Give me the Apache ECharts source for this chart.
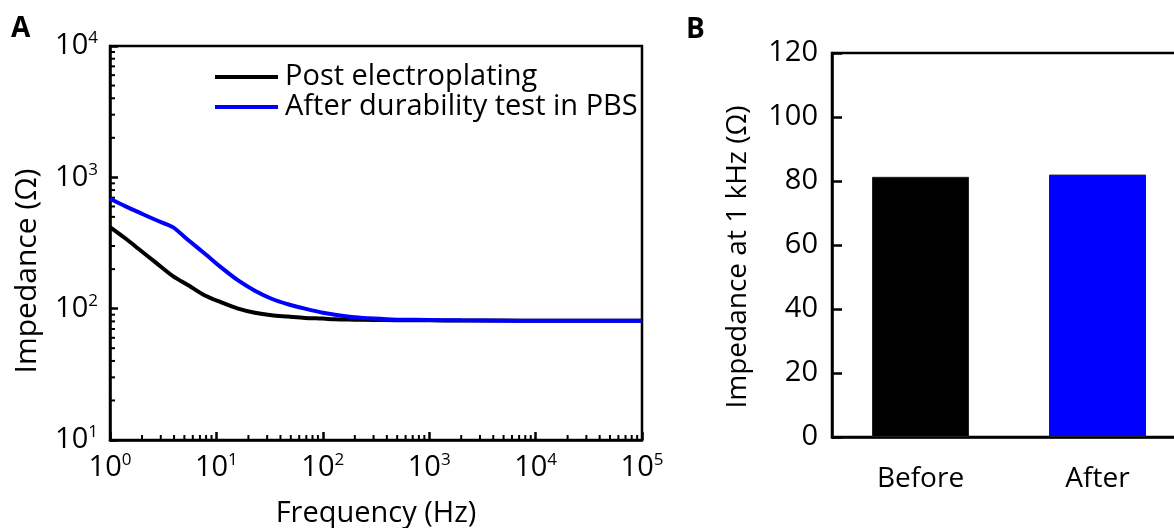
<!DOCTYPE html>
<html><head><meta charset="utf-8">
<script src="https://cdn.jsdelivr.net/npm/echarts@6/dist/echarts.min.js"></script>
<style>html,body{margin:0;padding:0;background:#fff}#c{width:1174px;height:528px}</style>
</head><body><div id="c"></div>
<script>
// ---- data ----
const frequency = [1, 1.4, 1.85, 2.7, 3.9, 5.5, 7.8, 11, 16, 23, 33, 47, 68, 100, 130, 200, 300, 500, 1000, 2000, 5000, 10000, 20000, 50000, 100000];
const postElectroplating = [418, 342, 286, 224, 177, 150, 126, 112, 100, 93, 89, 87, 85, 84, 83, 82.5, 82, 81.8, 81.5, 81.3, 81.2, 81, 81, 81, 81];
const afterDurability = [687, 601, 543, 473, 418, 330, 262, 207, 164, 137, 119, 108, 100, 93, 90, 86, 84, 82.5, 82, 81.5, 81, 81, 81, 81, 81];
const seriesNames = ['Post electroplating', 'After durability test in PBS'];
const barCategories = ['Before', 'After'];
const barValues = [81.3, 82.0];
const barColors = ['#000000', '#0000ff'];

// minor tick positions for log axes (2..9 per decade)
function minorTicks(lo, hi) {
  const out = [];
  for (let d = lo; d < hi; d *= 10) for (let k = 2; k <= 9; k++) out.push(d * k);
  return out;
}
const xMinor = minorTicks(1, 100000).map(v => [v, 10]);
const yMinor = minorTicks(10, 10000).map(v => [1, v]);

const FONT = '"Open Sans", "Noto Sans", sans-serif';
const supRich = {
  b: { fontSize: 29, fontFamily: FONT, color: '#000', lineHeight: 32, verticalAlign: 'middle' },
  s: { fontSize: 17, fontFamily: FONT, color: '#000', lineHeight: 14, verticalAlign: 'top' }
};
const expFmt = v => '{b|10}{s|' + Math.round(Math.log10(v)) + '}';

const chart = echarts.init(document.getElementById('c'), null, { renderer: 'canvas' });
chart.setOption({
  animation: false,
  backgroundColor: '#fff',
  textStyle: { fontFamily: FONT },
  graphic: [
    { type: 'text', left: 11, top: 15, style: { text: 'A', font: 'bold 28px ' + FONT, fill: '#000' } },
    { type: 'text', left: 686, top: 16, style: { text: 'B', font: 'bold 28px ' + FONT, fill: '#000' } }
  ],
  legend: {
    data: seriesNames,
    orient: 'vertical',
    left: 215, top: 62, padding: 0,
    itemWidth: 63, itemHeight: 4, itemGap: 0,
    icon: 'rect',
    textStyle: { fontSize: 29, fontFamily: FONT, color: '#000', lineHeight: 30, padding: [0, 0, 0, 2] }
  },
  grid: [
    { left: 110, top: 46, width: 532, bottom: 88, show: true, borderColor: '#000', borderWidth: 2.5, containLabel: false, outerBoundsMode: 'none' },
    { left: 832, top: 53, width: 354, bottom: 91, show: true, borderColor: '#000', borderWidth: 2.5, containLabel: false, outerBoundsMode: 'none' }
  ],
  xAxis: [
    {
      type: 'log', logBase: 10, min: 1, max: 100000, gridIndex: 0,
      name: 'Frequency (Hz)', nameLocation: 'middle', nameGap: 59,
      nameTextStyle: { fontSize: 29, fontFamily: FONT, color: '#000' },
      axisLine: { lineStyle: { color: '#000', width: 2.5 } },
      axisTick: { inside: true, length: 8, lineStyle: { color: '#000', width: 2.5 } },
      axisLabel: { formatter: expFmt, rich: supRich, margin: 12 },
      splitLine: { show: false }
    },
    {
      type: 'category', data: barCategories, gridIndex: 1,
      axisLine: { lineStyle: { color: '#000', width: 2.5 } },
      axisTick: { inside: true, alignWithLabel: true, length: 8, lineStyle: { color: '#000', width: 2 } },
      axisLabel: { fontSize: 28, fontFamily: FONT, color: '#000', margin: 28 }
    }
  ],
  yAxis: [
    {
      type: 'log', logBase: 10, min: 10, max: 10000, gridIndex: 0,
      name: 'Impedance (Ω)', nameLocation: 'middle', nameGap: 68,
      nameTextStyle: { fontSize: 30, fontFamily: FONT, color: '#000', padding: [0, 56, 0, 0] },
      axisLine: { lineStyle: { color: '#000', width: 2.5 } },
      axisTick: { inside: true, length: 8, lineStyle: { color: '#000', width: 2.5 } },
      axisLabel: { formatter: expFmt, rich: supRich, margin: 12 },
      splitLine: { show: false }
    },
    {
      type: 'value', min: 0, max: 120, interval: 20, gridIndex: 1,
      name: 'Impedance at 1 kHz (Ω)', nameLocation: 'middle', nameGap: 80,
      nameTextStyle: { fontSize: 28, fontFamily: FONT, color: '#000', padding: [0, 24, 0, 0] },
      axisLine: { show: true, lineStyle: { color: '#000', width: 2.5 } },
      axisTick: { show: true, inside: true, length: 10, lineStyle: { color: '#000', width: 2.5 } },
      axisLabel: { fontSize: 29, fontFamily: FONT, color: '#000', margin: 14 },
      splitLine: { show: false }
    }
  ],
  series: [
    {
      name: seriesNames[0], type: 'line', xAxisIndex: 0, yAxisIndex: 0,
      data: frequency.map((f, i) => [f, postElectroplating[i]]),
      showSymbol: false, smooth: 0.3, color: '#000',
      lineStyle: { color: '#000', width: 4 }
    },
    {
      name: seriesNames[1], type: 'line', xAxisIndex: 0, yAxisIndex: 0,
      data: frequency.map((f, i) => [f, afterDurability[i]]),
      showSymbol: false, smooth: 0.2, color: '#0000ff',
      lineStyle: { color: '#0000ff', width: 4 }
    },
    {
      type: 'custom', xAxisIndex: 0, yAxisIndex: 0, data: xMinor, silent: true,
      renderItem: (params, api) => {
        const p = api.coord([api.value(0), api.value(1)]);
        return { type: 'line', shape: { x1: p[0], y1: p[1], x2: p[0], y2: p[1] - 5 }, style: { stroke: '#000', lineWidth: 2 } };
      }
    },
    {
      type: 'custom', xAxisIndex: 0, yAxisIndex: 0, data: yMinor, silent: true,
      renderItem: (params, api) => {
        const p = api.coord([api.value(0), api.value(1)]);
        return { type: 'line', shape: { x1: p[0], y1: p[1], x2: p[0] + 5, y2: p[1] }, style: { stroke: '#000', lineWidth: 2 } };
      }
    },
    {
      type: 'bar', xAxisIndex: 1, yAxisIndex: 1, barWidth: 97,
      data: barValues.map((v, i) => ({ value: v, itemStyle: { color: barColors[i], borderColor: '#222', borderWidth: 1 } }))
    }
  ]
});
</script></body></html>
